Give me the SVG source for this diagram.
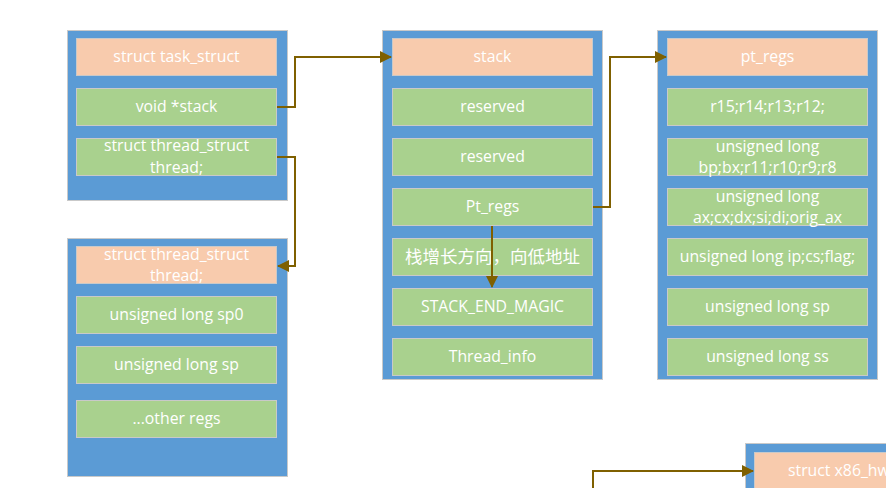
<svg xmlns="http://www.w3.org/2000/svg" width="886" height="488" viewBox="0 0 886 488">
<defs>
<style>
.c{fill:#5B9BD5;stroke:#C9C9C9;stroke-width:1}
.h{fill:#F8CBAD;stroke:#C9C9C9;stroke-width:1}
.g{fill:#A9D18E;stroke:#C9C9C9;stroke-width:1}
text{fill:#FFFFFF;font-family:"Open Sans","Noto Sans","Noto Sans CJK SC",sans-serif;font-size:15.8px;text-anchor:middle}
.l{fill:none;stroke:#7F6000;stroke-width:2}
</style>
<marker id="a" markerWidth="12" markerHeight="12" refX="11" refY="6" orient="auto" markerUnits="userSpaceOnUse">
<path d="M0,0 L12,6 L0,12 Z" fill="#7F6000"/>
</marker>
</defs>
<rect width="886" height="488" fill="#FFFFFF"/>
<g id="task_struct">
<rect class="c" x="67.5" y="30.5" width="220" height="170"/>
<rect class="h" x="76.5" y="38.5" width="200" height="37"/>
<text x="176.5" y="62">struct task_struct</text>
<rect class="g" x="76.5" y="88.5" width="200" height="37"/>
<text x="176.5" y="112">void *stack</text>
<rect class="g" x="76.5" y="138.5" width="200" height="37"/>
<text x="176.5" y="151">struct thread_struct</text>
<text x="176.5" y="173">thread;</text>
</g>
<g id="thread_struct">
<rect class="c" x="67.5" y="238.5" width="220" height="238"/>
<rect class="h" x="76.5" y="246.5" width="200" height="37"/>
<text x="176.5" y="260">struct thread_struct</text>
<text x="176.5" y="281">thread;</text>
<rect class="g" x="76.5" y="296.5" width="200" height="37"/>
<text x="176.5" y="320">unsigned long sp0</text>
<rect class="g" x="76.5" y="346.5" width="200" height="37"/>
<text x="176.5" y="370">unsigned long sp</text>
<rect class="g" x="76.5" y="400.5" width="200" height="37"/>
<text x="176.5" y="424">...other regs</text>
</g>
<g id="stack">
<rect class="c" x="382.5" y="30.5" width="220" height="349"/>
<rect class="h" x="392.5" y="38.5" width="200" height="37"/>
<text x="492.5" y="62">stack</text>
<rect class="g" x="392.5" y="88.5" width="200" height="37"/>
<text x="492.5" y="112">reserved</text>
<rect class="g" x="392.5" y="138.5" width="200" height="37"/>
<text x="492.5" y="162">reserved</text>
<rect class="g" x="392.5" y="188.5" width="200" height="37"/>
<text x="492.5" y="212">Pt_regs</text>
<rect class="g" x="392.5" y="238.5" width="200" height="37"/>
<text x="492.5" y="263" style="font-size:17.5px">栈增长方向，向低地址</text>
<rect class="g" x="392.5" y="288.5" width="200" height="37"/>
<text x="492.5" y="312">STACK_END_MAGIC</text>
<rect class="g" x="392.5" y="338.5" width="200" height="37"/>
<text x="492.5" y="362">Thread_info</text>
</g>
<g id="pt_regs">
<rect class="c" x="657.5" y="30.5" width="220" height="349"/>
<rect class="h" x="667.5" y="38.5" width="200" height="37"/>
<text x="767.5" y="62">pt_regs</text>
<rect class="g" x="667.5" y="88.5" width="200" height="37"/>
<text x="767.5" y="112">r15;r14;r13;r12;</text>
<rect class="g" x="667.5" y="138.5" width="200" height="37"/>
<text x="767.5" y="152">unsigned long</text>
<text x="767.5" y="173">bp;bx;r11;r10;r9;r8</text>
<rect class="g" x="667.5" y="188.5" width="200" height="37"/>
<text x="767.5" y="202">unsigned long</text>
<text x="767.5" y="223">ax;cx;dx;si;di;orig_ax</text>
<rect class="g" x="667.5" y="238.5" width="200" height="37"/>
<text x="767.5" y="262">unsigned long ip;cs;flag;</text>
<rect class="g" x="667.5" y="288.5" width="200" height="37"/>
<text x="767.5" y="312">unsigned long sp</text>
<rect class="g" x="667.5" y="338.5" width="200" height="37"/>
<text x="767.5" y="362">unsigned long ss</text>
</g>
<g id="x86_hw">
<rect class="c" x="745.5" y="443.5" width="160" height="60"/>
<rect class="h" x="754.5" y="452.5" width="150" height="40"/>
<text x="788" y="476" style="text-anchor:start">struct x86_hw</text>
</g>
<g id="connectors">
<polyline class="l" points="277,107 295,107 295,57 391,57" marker-end="url(#a)"/>
<polyline class="l" points="277,157 295,157 295,266 278,266" marker-end="url(#a)"/>
<polyline class="l" points="593,207 610,207 610,57 666,57" marker-end="url(#a)"/>
<polyline class="l" points="492,226 492,287" marker-end="url(#a)"/>
<polyline class="l" points="593,488 593,471 753,471" marker-end="url(#a)"/>
</g>
</svg>
